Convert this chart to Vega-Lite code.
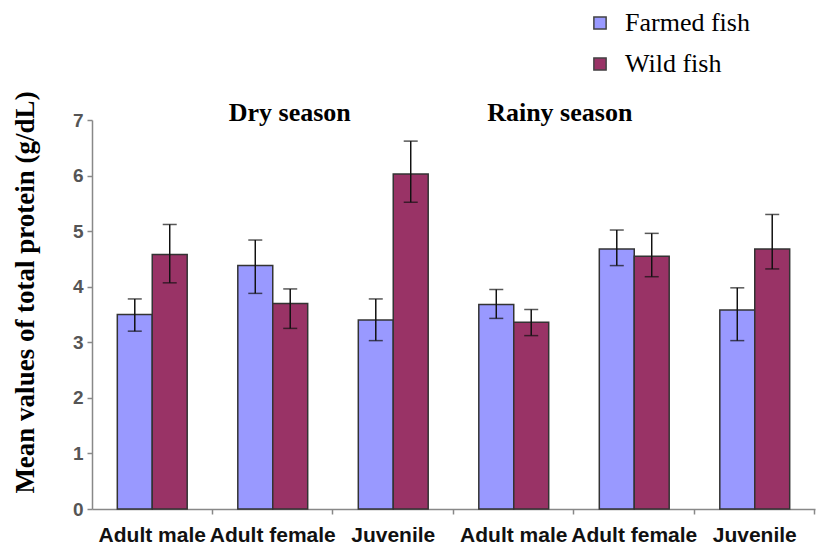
{
  "$schema": "https://vega.github.io/schema/vega-lite/v6.json",
  "width": 723,
  "height": 389,
  "autosize": {"type": "none"},
  "padding": {"left": 92, "top": 120, "right": 18, "bottom": 41},
  "background": "white",
  "config": {"view": {"stroke": null}},
  "data": {"values": [
    {"group": "Dry|Adult male", "fish": "Farmed fish", "mean": 3.5, "lo": 3.2, "hi": 3.78},
    {"group": "Dry|Adult male", "fish": "Wild fish", "mean": 4.58, "lo": 4.07, "hi": 5.12},
    {"group": "Dry|Adult female", "fish": "Farmed fish", "mean": 4.38, "lo": 3.88, "hi": 4.84},
    {"group": "Dry|Adult female", "fish": "Wild fish", "mean": 3.7, "lo": 3.25, "hi": 3.96},
    {"group": "Dry|Juvenile", "fish": "Farmed fish", "mean": 3.4, "lo": 3.03, "hi": 3.78},
    {"group": "Dry|Juvenile", "fish": "Wild fish", "mean": 6.03, "lo": 5.52, "hi": 6.62},
    {"group": "Rainy|Adult male", "fish": "Farmed fish", "mean": 3.68, "lo": 3.43, "hi": 3.95},
    {"group": "Rainy|Adult male", "fish": "Wild fish", "mean": 3.36, "lo": 3.12, "hi": 3.59},
    {"group": "Rainy|Adult female", "fish": "Farmed fish", "mean": 4.68, "lo": 4.38, "hi": 5.02},
    {"group": "Rainy|Adult female", "fish": "Wild fish", "mean": 4.55, "lo": 4.18, "hi": 4.96},
    {"group": "Rainy|Juvenile", "fish": "Farmed fish", "mean": 3.58, "lo": 3.03, "hi": 3.98},
    {"group": "Rainy|Juvenile", "fish": "Wild fish", "mean": 4.68, "lo": 4.32, "hi": 5.3}
  ]},
  "encoding": {
    "x": {
      "field": "group", "type": "nominal", "sort": null,
      "scale": {"paddingInner": 0.42, "paddingOuter": 0.21},
      "axis": {
        "title": null, "labelAngle": 0,
        "labelExpr": "split(datum.label, '|')[1]",
        "labelFont": "Liberation Sans", "labelFontWeight": "bold", "labelFontSize": 21,
        "labelColor": "#111", "labelPadding": 10,
        "domainColor": "#888", "domainWidth": 1.5,
        "tickColor": "#888", "tickWidth": 1.5, "tickSize": 5,
        "bandPosition": 1.36
      }
    },
    "xOffset": {"field": "fish", "type": "nominal"}
  },
  "layer": [
    {
      "mark": {"type": "bar", "stroke": "#333", "strokeWidth": 1.5},
      "encoding": {
        "y": {
          "field": "mean", "type": "quantitative",
          "scale": {"domain": [0, 7], "nice": false},
          "axis": {
            "title": "Mean values of total protein (g/dL)",
            "titleFont": "Liberation Serif", "titleFontWeight": "bold", "titleFontSize": 27,
            "titleColor": "#000", "titleAngle": -90, "titleBaseline": "middle",
            "titleAlign": "center", "titleX": -67, "titleY": 172,
            "values": [0, 1, 2, 3, 4, 5, 6, 7], "format": "d", "grid": false,
            "labelFont": "Liberation Sans", "labelFontWeight": "bold", "labelFontSize": 19,
            "labelColor": "#555", "labelPadding": 4,
            "domainColor": "#888", "domainWidth": 1.5,
            "tickColor": "#888", "tickWidth": 1.5, "tickSize": 5
          }
        },
        "color": {
          "field": "fish", "type": "nominal",
          "scale": {"domain": ["Farmed fish", "Wild fish"], "range": ["#9999FF", "#993366"]},
          "legend": {
            "title": null, "orient": "none", "legendX": 495, "legendY": -110,
            "symbolType": "square", "symbolSize": 150,
            "symbolStrokeColor": "#444", "symbolStrokeWidth": 1.5,
            "labelFont": "Liberation Serif", "labelFontSize": 26, "labelColor": "#000",
            "labelOffset": 12, "rowPadding": 15
          }
        }
      }
    },
    {
      "mark": {"type": "rule", "color": "#111", "strokeWidth": 1.5},
      "encoding": {
        "y": {"field": "lo", "type": "quantitative"},
        "y2": {"field": "hi"}
      }
    },
    {
      "mark": {"type": "tick", "color": "#111", "thickness": 1.5, "size": 14},
      "encoding": {"y": {"field": "lo", "type": "quantitative"}}
    },
    {
      "mark": {"type": "tick", "color": "#111", "thickness": 1.5, "size": 14},
      "encoding": {"y": {"field": "hi", "type": "quantitative"}}
    },
    {
      "data": {"values": [{"group": "Dry|Adult female", "label": "Dry season", "ypos": 7.13}]},
      "mark": {"type": "text", "font": "Liberation Serif", "fontWeight": "bold", "fontSize": 26, "dx": 17, "baseline": "middle", "color": "#000"},
      "encoding": {
        "xOffset": null,
        "y": {"field": "ypos", "type": "quantitative"},
        "text": {"field": "label"}
      }
    },
    {
      "data": {"values": [{"group": "Rainy|Adult male", "label": "Rainy season", "ypos": 7.13}]},
      "mark": {"type": "text", "font": "Liberation Serif", "fontWeight": "bold", "fontSize": 26, "dx": 46, "baseline": "middle", "color": "#000"},
      "encoding": {
        "xOffset": null,
        "y": {"field": "ypos", "type": "quantitative"},
        "text": {"field": "label"}
      }
    }
  ]
}
